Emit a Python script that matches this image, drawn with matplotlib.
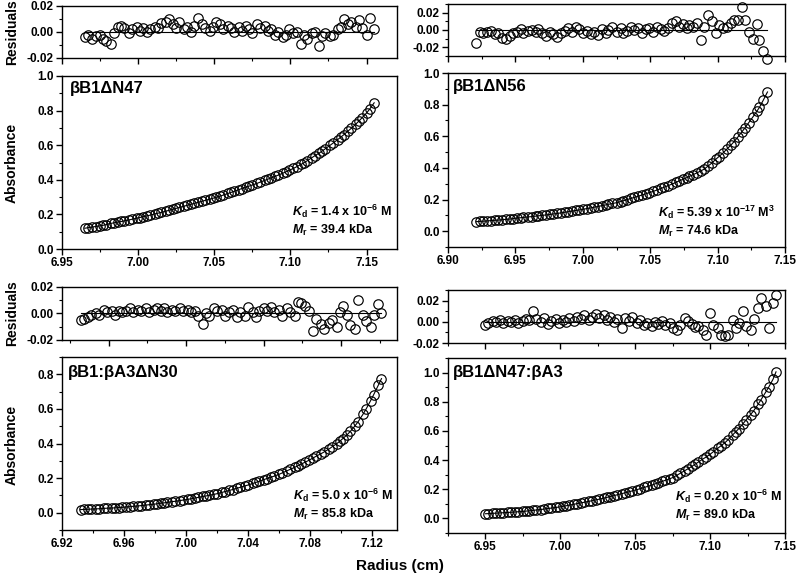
import matplotlib
matplotlib.use('Agg')
import matplotlib.pyplot as plt
from matplotlib.ticker import MultipleLocator, FormatStrFormatter, NullFormatter

plt.rcParams['font.family'] = ['Liberation Sans', 'DejaVu Sans']
plt.rcParams['font.weight'] = 'bold'
plt.rcParams['axes.unicode_minus'] = False
plt.rcParams['mathtext.fontset'] = 'custom'
plt.rcParams['mathtext.rm'] = 'Liberation Sans:bold'
plt.rcParams['mathtext.it'] = 'Liberation Sans:italic:bold'
plt.rcParams['mathtext.bf'] = 'Liberation Sans:bold'

# ---- data ----
# panel 1: bB1dN47
radius_1 = [6.965, 6.967, 6.970, 6.972, 6.975, 6.977, 6.979, 6.982, 6.984, 6.987,
            6.989, 6.991, 6.994, 6.996, 6.999, 7.001, 7.003, 7.006, 7.008, 7.011,
            7.013, 7.015, 7.018, 7.020, 7.023, 7.025, 7.027, 7.030, 7.032, 7.035,
            7.037, 7.039, 7.042, 7.044, 7.047, 7.049, 7.051, 7.054, 7.056, 7.059,
            7.061, 7.063, 7.066, 7.068, 7.071, 7.073, 7.075, 7.078, 7.080, 7.083,
            7.085, 7.087, 7.090, 7.092, 7.095, 7.097, 7.099, 7.102, 7.104, 7.107,
            7.109, 7.111, 7.114, 7.116, 7.119, 7.121, 7.123, 7.126, 7.128, 7.131,
            7.133, 7.135, 7.138, 7.140, 7.143, 7.145, 7.147, 7.150, 7.152, 7.155]
absorb_1 = [0.120, 0.123, 0.127, 0.130, 0.134, 0.137, 0.141, 0.148, 0.151, 0.156,
            0.159, 0.163, 0.168, 0.172, 0.178, 0.182, 0.186, 0.192, 0.196, 0.203,
            0.207, 0.211, 0.218, 0.223, 0.230, 0.235, 0.240, 0.247, 0.252, 0.259,
            0.264, 0.269, 0.276, 0.281, 0.288, 0.293, 0.298, 0.306, 0.312, 0.321,
            0.327, 0.333, 0.343, 0.349, 0.358, 0.364, 0.370, 0.379, 0.386, 0.396,
            0.403, 0.410, 0.420, 0.427, 0.438, 0.446, 0.454, 0.466, 0.475, 0.489,
            0.499, 0.510, 0.527, 0.539, 0.555, 0.567, 0.580, 0.599, 0.612, 0.632,
            0.646, 0.660, 0.683, 0.698, 0.722, 0.740, 0.758, 0.786, 0.808, 0.845]
resid_1 = [-0.004, -0.002, -0.005, -0.003, -0.002, -0.005, -0.007, -0.009, -0.001, 0.004,
           0.005, 0.003, -0.001, 0.002, 0.004, 0.001, 0.003, 0.000, 0.002, 0.004,
           0.003, 0.007, 0.008, 0.010, 0.006, 0.003, 0.008, 0.002, 0.004, 0.000,
           0.005, 0.011, 0.006, 0.003, 0.001, 0.004, 0.008, 0.006, 0.002, 0.005,
           0.003, 0.000, 0.004, 0.001, 0.005, 0.002, -0.001, 0.006, 0.003, 0.005,
           0.001, 0.002, -0.002, 0.000, -0.004, -0.002, 0.002, -0.001, 0.000, -0.009,
           -0.002, -0.005, -0.001, 0.000, -0.011, -0.003, -0.001, -0.003, -0.002, 0.002,
           0.004, 0.010, 0.006, 0.008, 0.004, 0.009, 0.003, -0.002, 0.011, 0.002]

# panel 2: bB1dN56
radius_2 = [6.921, 6.924, 6.926, 6.929, 6.932, 6.935, 6.937, 6.940, 6.943, 6.946,
            6.948, 6.951, 6.954, 6.956, 6.959, 6.962, 6.965, 6.967, 6.970, 6.973,
            6.976, 6.978, 6.981, 6.984, 6.987, 6.989, 6.992, 6.995, 6.997, 7.000,
            7.003, 7.006, 7.008, 7.011, 7.014, 7.017, 7.019, 7.022, 7.025, 7.028,
            7.030, 7.033, 7.036, 7.038, 7.041, 7.044, 7.047, 7.049, 7.052, 7.055,
            7.058, 7.060, 7.063, 7.066, 7.069, 7.071, 7.074, 7.077, 7.079, 7.082,
            7.085, 7.088, 7.090, 7.093, 7.096, 7.099, 7.101, 7.104, 7.107, 7.110,
            7.112, 7.115, 7.118, 7.120, 7.123, 7.126, 7.129, 7.131, 7.134, 7.137]
absorb_2 = [0.060, 0.062, 0.063, 0.065, 0.067, 0.069, 0.070, 0.072, 0.075, 0.077,
            0.079, 0.083, 0.085, 0.087, 0.090, 0.092, 0.095, 0.097, 0.100, 0.103,
            0.106, 0.109, 0.112, 0.116, 0.120, 0.123, 0.127, 0.131, 0.134, 0.138,
            0.143, 0.147, 0.151, 0.156, 0.161, 0.166, 0.170, 0.175, 0.180, 0.187,
            0.192, 0.200, 0.208, 0.213, 0.221, 0.229, 0.237, 0.243, 0.251, 0.260,
            0.270, 0.277, 0.287, 0.297, 0.308, 0.316, 0.327, 0.338, 0.346, 0.358,
            0.370, 0.383, 0.392, 0.412, 0.433, 0.457, 0.472, 0.494, 0.520, 0.545,
            0.564, 0.595, 0.628, 0.650, 0.685, 0.720, 0.757, 0.782, 0.830, 0.880]
resid_2 = [-0.015, -0.002, -0.003, -0.002, -0.001, -0.005, -0.003, -0.009, -0.010, -0.007,
           -0.004, -0.002, 0.001, -0.003, -0.001, 0.000, -0.002, 0.001, -0.004, -0.007,
           -0.002, -0.005, -0.008, -0.003, -0.001, 0.002, -0.002, 0.004, 0.001, -0.003,
           -0.001, -0.005, -0.002, -0.006, 0.001, -0.003, 0.000, 0.003, -0.002, 0.002,
           -0.004, -0.001, 0.003, 0.000, 0.002, -0.003, 0.001, 0.002, -0.002, 0.003,
           0.001, -0.001, 0.002, 0.008, 0.010, 0.004, 0.007, 0.002, 0.006, 0.003,
           0.008, -0.011, 0.004, 0.017, 0.010, -0.004, 0.006, 0.002, 0.004, 0.008,
           0.011, 0.012, 0.026, 0.011, -0.002, -0.010, 0.007, -0.012, -0.024, -0.033]

# panel 3: bB1:bA3dN30
radius_3 = [6.932, 6.934, 6.937, 6.939, 6.942, 6.944, 6.947, 6.949, 6.952, 6.954,
            6.957, 6.959, 6.961, 6.964, 6.966, 6.969, 6.971, 6.974, 6.976, 6.979,
            6.981, 6.984, 6.986, 6.988, 6.991, 6.993, 6.996, 6.998, 7.001, 7.003,
            7.006, 7.008, 7.011, 7.013, 7.015, 7.018, 7.020, 7.023, 7.025, 7.028,
            7.030, 7.033, 7.035, 7.038, 7.040, 7.043, 7.045, 7.047, 7.050, 7.052,
            7.055, 7.057, 7.060, 7.062, 7.065, 7.067, 7.070, 7.072, 7.074, 7.077,
            7.079, 7.082, 7.084, 7.087, 7.089, 7.092, 7.094, 7.097, 7.099, 7.101,
            7.104, 7.106, 7.109, 7.111, 7.114, 7.116, 7.119, 7.121, 7.124, 7.126]
absorb_3 = [0.018, 0.019, 0.020, 0.021, 0.022, 0.023, 0.025, 0.026, 0.027, 0.028,
            0.030, 0.031, 0.033, 0.035, 0.037, 0.039, 0.041, 0.044, 0.046, 0.049,
            0.051, 0.055, 0.057, 0.060, 0.064, 0.066, 0.070, 0.073, 0.077, 0.080,
            0.085, 0.089, 0.094, 0.097, 0.101, 0.106, 0.110, 0.117, 0.122, 0.129,
            0.134, 0.142, 0.147, 0.155, 0.160, 0.169, 0.175, 0.181, 0.191, 0.197,
            0.206, 0.212, 0.222, 0.230, 0.242, 0.250, 0.262, 0.271, 0.280, 0.293,
            0.302, 0.317, 0.327, 0.341, 0.351, 0.367, 0.380, 0.398, 0.412, 0.428,
            0.452, 0.471, 0.503, 0.527, 0.568, 0.598, 0.648, 0.683, 0.738, 0.775]
resid_3 = [-0.005, -0.004, -0.003, -0.001, 0.000, -0.001, 0.003, 0.001, 0.002, -0.001,
           0.002, 0.001, 0.002, 0.004, 0.001, 0.003, 0.002, 0.004, 0.001, 0.003,
           0.004, 0.002, 0.004, 0.001, 0.003, 0.002, 0.004, 0.002, 0.003, 0.001,
           0.002, -0.002, -0.008, 0.000, -0.002, 0.004, 0.002, 0.003, -0.002, 0.001,
           0.003, -0.003, 0.001, -0.002, 0.005, 0.001, -0.003, 0.002, 0.004, 0.002,
           0.005, 0.001, 0.003, -0.002, 0.004, 0.001, -0.002, 0.009, 0.008, 0.006,
           0.002, -0.013, -0.004, -0.008, -0.012, -0.007, -0.005, -0.010, 0.001, 0.006,
           -0.001, -0.009, -0.012, 0.010, -0.001, -0.006, -0.010, -0.001, 0.007, 0.000]

# panel 4: bB1dN47:bA3
radius_4 = [6.950, 6.952, 6.955, 6.957, 6.960, 6.962, 6.965, 6.967, 6.970, 6.972,
            6.975, 6.977, 6.979, 6.982, 6.984, 6.987, 6.989, 6.992, 6.994, 6.997,
            6.999, 7.002, 7.004, 7.006, 7.009, 7.011, 7.014, 7.016, 7.019, 7.021,
            7.024, 7.026, 7.029, 7.031, 7.033, 7.036, 7.038, 7.041, 7.043, 7.046,
            7.048, 7.051, 7.053, 7.056, 7.058, 7.061, 7.063, 7.065, 7.068, 7.070,
            7.073, 7.075, 7.078, 7.080, 7.083, 7.085, 7.088, 7.090, 7.092, 7.095,
            7.097, 7.100, 7.102, 7.105, 7.107, 7.110, 7.112, 7.115, 7.117, 7.119,
            7.122, 7.124, 7.127, 7.129, 7.132, 7.134, 7.137, 7.139, 7.142, 7.144]
absorb_4 = [0.032, 0.033, 0.035, 0.036, 0.038, 0.039, 0.041, 0.042, 0.044, 0.046,
            0.048, 0.050, 0.052, 0.055, 0.058, 0.061, 0.064, 0.068, 0.071, 0.075,
            0.078, 0.083, 0.087, 0.091, 0.097, 0.101, 0.107, 0.111, 0.117, 0.121,
            0.128, 0.132, 0.139, 0.144, 0.149, 0.157, 0.162, 0.170, 0.175, 0.183,
            0.189, 0.197, 0.203, 0.212, 0.219, 0.228, 0.236, 0.243, 0.254, 0.261,
            0.272, 0.280, 0.297, 0.309, 0.327, 0.339, 0.358, 0.372, 0.385, 0.406,
            0.419, 0.440, 0.456, 0.480, 0.496, 0.520, 0.540, 0.572, 0.593, 0.614,
            0.650, 0.675, 0.712, 0.737, 0.782, 0.814, 0.864, 0.898, 0.954, 1.005]
resid_4 = [-0.003, -0.001, 0.001, 0.000, 0.002, -0.001, 0.001, 0.000, 0.002, -0.001,
           0.001, 0.003, 0.002, 0.010, 0.003, 0.000, 0.004, -0.002, 0.001, 0.003,
           -0.001, 0.002, 0.000, 0.004, 0.001, 0.005, 0.003, 0.006, 0.002, 0.005,
           0.007, 0.004, 0.006, 0.002, 0.005, 0.000, 0.003, -0.006, 0.004, 0.001,
           0.005, -0.001, 0.002, -0.003, -0.001, -0.004, 0.000, -0.002, 0.001, -0.003,
           -0.001, -0.006, -0.008, -0.003, 0.004, 0.001, -0.002, -0.005, -0.004, -0.008,
           -0.012, 0.008, -0.003, -0.006, -0.012, -0.013, -0.012, 0.002, -0.006, -0.001,
           0.010, -0.004, -0.008, 0.003, 0.013, 0.022, 0.015, -0.006, 0.018, 0.025]

titles = ['βB1ΔN47', 'βB1ΔN56', 'βB1:βA3ΔN30', 'βB1ΔN47:βA3']
kd_texts = [r'$K_\mathrm{d}$ = 1.4 x 10$^{-6}$ M',
            r'$K_\mathrm{d}$ = 5.39 x 10$^{-17}$ M$^{3}$',
            r'$K_\mathrm{d}$ = 5.0 x 10$^{-6}$ M',
            r'$K_\mathrm{d}$ = 0.20 x 10$^{-6}$ M']
mr_texts = [r'$M_\mathrm{r}$ = 39.4 kDa', r'$M_\mathrm{r}$ = 74.6 kDa',
            r'$M_\mathrm{r}$ = 85.8 kDa', r'$M_\mathrm{r}$ = 89.0 kDa']

W, H = 800, 583
fig = plt.figure(figsize=(W / 100, H / 100), dpi=100)


def rect(left, top, right, bottom):
    # pixel box -> figure fraction
    return [left / W, 1 - bottom / H, (right - left) / W, (bottom - top) / H]


def style(ax, xmaj, xmin, ymaj, ymin, yfmt, xlabels):
    ax.xaxis.set_major_locator(MultipleLocator(xmaj))
    ax.xaxis.set_minor_locator(MultipleLocator(xmin))
    ax.yaxis.set_major_locator(MultipleLocator(ymaj))
    ax.yaxis.set_minor_locator(MultipleLocator(ymin))
    ax.yaxis.set_major_formatter(FormatStrFormatter(yfmt))
    if xlabels:
        ax.xaxis.set_major_formatter(FormatStrFormatter('%.2f'))
    else:
        ax.xaxis.set_major_formatter(NullFormatter())
    ax.tick_params(which='major', direction='out', length=4, width=1,
                   labelsize=8.5, pad=2, top=False, right=False)
    ax.tick_params(which='minor', direction='out', length=2.5, width=0.8,
                   top=False, right=False)
    for s in ax.spines.values():
        s.set_linewidth(1)
    for lab in ax.get_xticklabels() + ax.get_yticklabels():
        lab.set_fontweight('bold')


def panel(r, a, res, rbox, abox, xlim, rlim, alim, xmaj, xmin, rxmaj, rxmin):
    axr = fig.add_axes(rect(*rbox))
    axr.plot([r[0], r[-1]], [0, 0], color='black', lw=0.8)
    axr.plot(r, res, 'o', ms=6.8, mfc='none', mec='black', mew=0.85, clip_on=False)
    axr.set_xlim(*xlim)
    axr.set_ylim(*rlim)
    style(axr, rxmaj, rxmin, 0.02, 0.01, '%.2f', False)

    axa = fig.add_axes(rect(*abox))
    axa.plot(r, a, color='black', lw=0.8)
    axa.plot(r, a, 'o', ms=6.8, mfc='none', mec='black', mew=0.85)
    axa.set_xlim(*xlim)
    axa.set_ylim(*alim)
    style(axa, xmaj, xmin, 0.2, 0.1, '%.1f', True)


panel(radius_1, absorb_1, resid_1, (62, 6, 397, 58), (62, 76, 397, 249),
      (6.95, 7.17), (-0.02, 0.02), (0.0, 1.0), 0.05, 0.025, 0.05, 0.025)
panel(radius_2, absorb_2, resid_2, (448, 4, 785, 56), (448, 73, 785, 247),
      (6.90, 7.15), (-0.03, 0.03), (-0.1, 1.0), 0.05, 0.025, 0.05, 0.025)
panel(radius_3, absorb_3, resid_3, (62, 287, 397, 340), (62, 357, 397, 530),
      (6.92, 7.136), (-0.02, 0.02), (-0.1, 0.9), 0.04, 0.02, 0.05, 0.025)
panel(radius_4, absorb_4, resid_4, (448, 290, 785, 343), (448, 358, 785, 533),
      (6.925, 7.15), (-0.02, 0.03), (-0.1, 1.1), 0.05, 0.025, 0.05, 0.025)


def ftext(px, py, s, **kw):
    fig.text(px / W, 1 - py / H, s, **kw)


title_pos = [(70, 88), (453, 87), (68, 372), (453, 372)]
kd_pos = [(292, 211), (658, 212), (293, 495), (675, 496)]
for i in range(4):
    ftext(*title_pos[i], titles[i], fontsize=12, fontweight='bold', va='center')
    ftext(kd_pos[i][0], kd_pos[i][1], kd_texts[i], fontsize=9, va='center')
    ftext(kd_pos[i][0], kd_pos[i][1] + 19, mr_texts[i], fontsize=9, va='center')

for y in (32, 313):
    ftext(12, y, 'Residuals', fontsize=10, fontweight='bold', rotation=90,
          ha='center', va='center')
for y in (163, 445):
    ftext(12, y, 'Absorbance', fontsize=10, fontweight='bold', rotation=90,
          ha='center', va='center')
ftext(400, 566, 'Radius (cm)', fontsize=11, fontweight='bold', ha='center', va='center')

fig.savefig('out.png', dpi=100)
